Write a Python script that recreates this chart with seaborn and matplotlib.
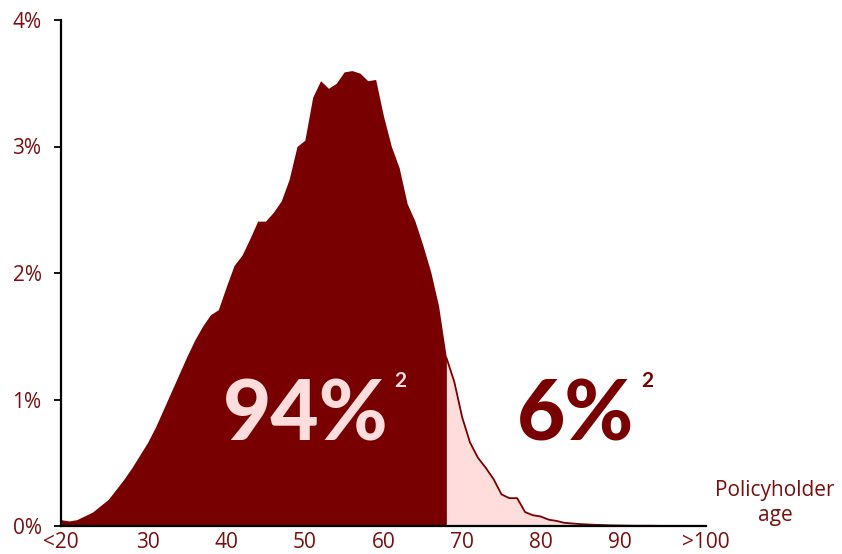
import matplotlib
matplotlib.use("Agg")
import matplotlib.pyplot as plt
import seaborn as sns
import numpy as np
import pandas as pd

# Share of policyholders by age (in %), ages 19 ("<20") to 101 (">100")
ages = list(range(19, 102))
share_pct = [
    0.05, 0.04, 0.05, 0.08, 0.11, 0.16, 0.21, 0.29, 0.37, 0.46,   # 19-28
    0.56, 0.66, 0.78, 0.92, 1.06, 1.20, 1.34, 1.47, 1.58, 1.67,   # 29-38
    1.71, 1.89, 2.06, 2.14, 2.27, 2.41, 2.41, 2.48, 2.57, 2.74,   # 39-48
    3.00, 3.05, 3.39, 3.52, 3.46, 3.50, 3.59, 3.60, 3.58, 3.52,   # 49-58
    3.53, 3.24, 3.00, 2.83, 2.55, 2.41, 2.22, 2.01, 1.74, 1.33,   # 59-68
    1.14, 0.86, 0.66, 0.54, 0.46, 0.37, 0.25, 0.22, 0.22, 0.11,   # 69-78
    0.085, 0.075, 0.05, 0.04, 0.025, 0.02, 0.015, 0.012, 0.009, 0.007,  # 79-88
    0.005, 0.004, 0.003, 0.002, 0.002, 0.002, 0.001, 0.001, 0.001, 0.001,  # 89-98
    0.001, 0.001, 0.001,  # 99-101
]
cutoff_age = 68
share_labels = ["94%", "6%"]
footnote = "2"

x_tick_ages = [19, 30, 40, 50, 60, 70, 80, 90, 101]
x_tick_labels = ["<20", "30", "40", "50", "60", "70", "80", "90", ">100"]
y_ticks = [0, 1, 2, 3, 4]
y_tick_labels = ["0%", "1%", "2%", "3%", "4%"]
x_title = "Policyholder\nage"

DARK = "#780000"
PINK = "#FFDDDD"
LABEL = "#7A0E0E"

df = pd.DataFrame({"age": ages, "share": share_pct})
under = df[df["age"] <= cutoff_age]
over = df[df["age"] >= cutoff_age]

sns.set_theme(style="white")
plt.rcParams["font.family"] = ["Open Sans", "DejaVu Sans"]

fig = plt.figure(figsize=(8.42, 5.54), dpi=100)
ax = fig.add_axes([61 / 842, 28 / 554, 645 / 842, 506 / 554])

# Filled areas below and above the cut-off age
ax.fill_between(under["age"], under["share"], 0, color=DARK, linewidth=0)
ax.fill_between(over["age"], over["share"], 0, color=PINK, linewidth=0)
sns.lineplot(data=over, x="age", y="share", ax=ax, color=DARK, linewidth=1.3)

ax.set_xlim(19, 101)
ax.set_ylim(0, 4)
ax.set_xticks(x_tick_ages)
ax.set_xticklabels(x_tick_labels)
ax.set_yticks(y_ticks)
ax.set_yticklabels(y_tick_labels)
ax.set_xlabel("")
ax.set_ylabel("")

for side in ("top", "right"):
    ax.spines[side].set_visible(False)
for side in ("left", "bottom"):
    ax.spines[side].set_color("black")
    ax.spines[side].set_linewidth(1.6)

ax.tick_params(axis="y", which="major", left=True, length=5, width=1.3,
               color="black", labelcolor=LABEL, labelsize=15, pad=9)
ax.tick_params(axis="x", which="major", bottom=False, length=0,
               labelcolor=LABEL, labelsize=15, pad=4)

# Big share annotations with footnote markers
big = dict(fontsize=60, fontweight="black", family=["Lato", "DejaVu Sans"],
           ha="center", va="center")
ax.text(50.1, 0.87, share_labels[0], color=PINK, **big)
ax.text(84.4, 0.87, share_labels[1], color=DARK, **big)
small = dict(fontsize=15, fontweight="bold", family=["Lato", "DejaVu Sans"],
             ha="center", va="center")
ax.text(62.2, 1.15, footnote, color=PINK, **small)
ax.text(93.6, 1.15, footnote, color=DARK, **small)

fig.text(775 / 842, 1 - 503 / 554, x_title, color=LABEL, fontsize=15,
         ha="center", va="center", linespacing=1.2)

fig.savefig("out.png", dpi=100)
